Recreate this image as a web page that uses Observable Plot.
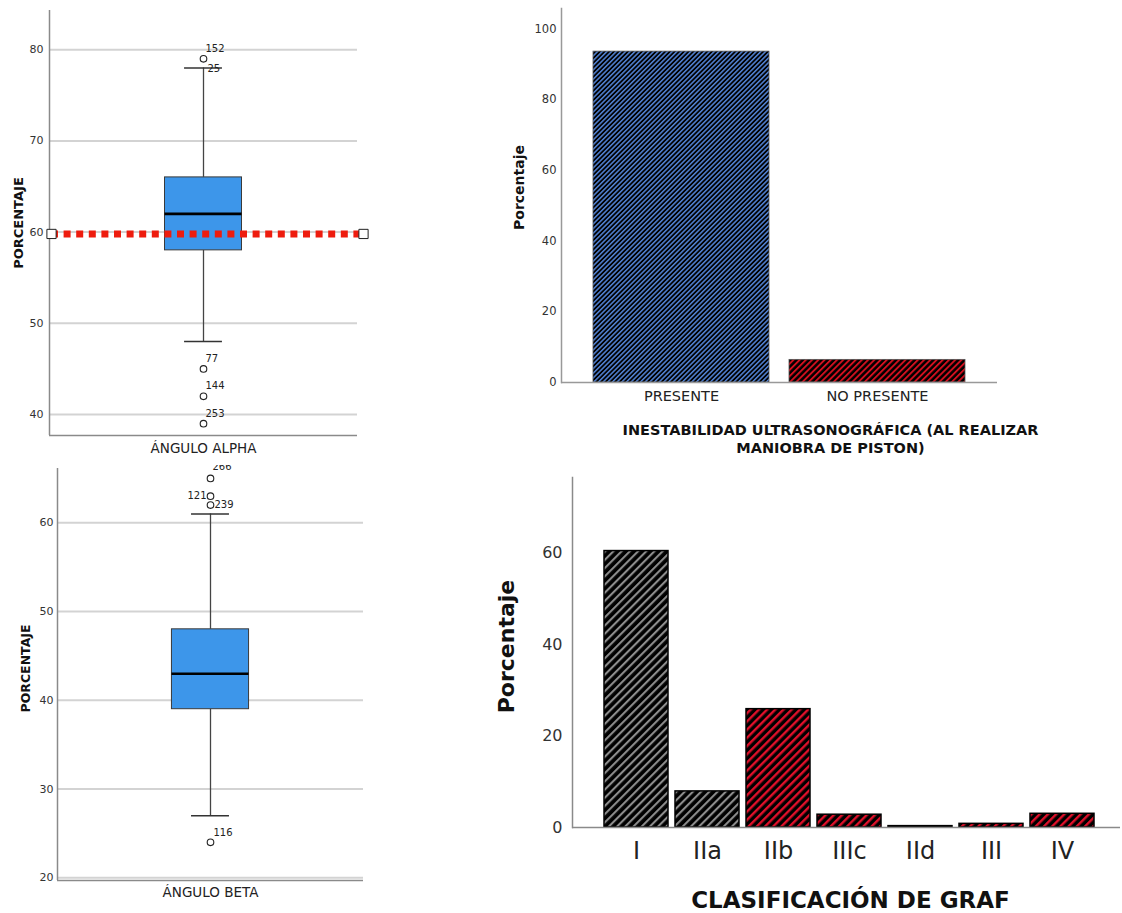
<!DOCTYPE html>
<html>
<head>
<meta charset="utf-8">
<script src="https://cdn.jsdelivr.net/npm/d3@7"></script>
<script src="https://cdn.jsdelivr.net/npm/@observablehq/plot@0.6"></script>
<style>
  body { margin: 0; background: #fff; }
  #wrap { position: relative; width: 1122px; height: 913px; overflow: hidden; background: #fff; font-family: "DejaVu Sans", sans-serif; }
  .panel { position: absolute; }
</style>
</head>
<body>
<div id="wrap">
  <div class="panel" id="p1" style="left:0;top:0"></div>
  <div class="panel" id="p2" style="left:480px;top:0"></div>
  <div class="panel" id="p3" style="left:0;top:465px"></div>
  <div class="panel" id="p4" style="left:480px;top:470px"></div>
</div>
<script>
// ---------------- DATA ----------------
// Panel 1: boxplot ángulo alpha
const alphaCategory = ["ÁNGULO ALPHA"];
const alphaTicks = [40, 50, 60, 70, 80];
const alphaYRange = [37.7, 84.3];
const alphaQuartiles = [58, 62, 66];          // Q1, mediana, Q3
const alphaWhiskers = [48, 78];               // bigote inferior, superior
const alphaOutlierValues = [79, 45, 42, 39];
const alphaOutlierIds = ["152", "77", "144", "253"];
const alphaCapValue = [78];
const alphaCapId = ["25"];
const alphaReference = [59.8];                // línea de referencia roja

// Panel 3: boxplot ángulo beta
const betaCategory = ["ÁNGULO BETA"];
const betaTicks = [20, 30, 40, 50, 60];
const betaYRange = [19.7, 66.12];
const betaQuartiles = [39, 43, 48];
const betaWhiskers = [27, 61];
const betaOutlierValues = [65, 63, 62, 24];
const betaOutlierIds = ["266", "121", "239", "116"];

// Panel 2: inestabilidad ultrasonográfica
const pistonCategories = ["PRESENTE", "NO PRESENTE"];
const pistonPercent = [93.6, 6.4];
const pistonTicks = [0, 20, 40, 60, 80, 100];
const pistonYMax = 105.8;

// Panel 4: clasificación de Graf
const grafCategories = ["I", "IIa", "IIb", "IIIc", "IId", "III", "IV"];
const grafPercent = [60.5, 7.9, 25.9, 2.8, 0.3, 0.8, 3.0];
const grafGroup = ["gris", "gris", "rojo", "rojo", "rojo", "rojo", "rojo"];
const grafTicks = [0, 20, 40, 60];
const grafYMax = 76.6;

// ---------------- HELPERS ----------------
function addPattern(svg, id, bg, fg, period, stripe) {
  const ns = "http://www.w3.org/2000/svg";
  let defs = svg.querySelector("defs");
  if (!defs) {
    defs = document.createElementNS(ns, "defs");
    svg.insertBefore(defs, svg.firstChild);
  }
  const p = document.createElementNS(ns, "pattern");
  p.setAttribute("id", id);
  p.setAttribute("patternUnits", "userSpaceOnUse");
  p.setAttribute("width", period);
  p.setAttribute("height", period);
  p.setAttribute("patternTransform", "rotate(45)");
  const r1 = document.createElementNS(ns, "rect");
  r1.setAttribute("width", period); r1.setAttribute("height", period); r1.setAttribute("fill", bg);
  const r2 = document.createElementNS(ns, "rect");
  r2.setAttribute("width", stripe); r2.setAttribute("height", period); r2.setAttribute("fill", fg);
  p.appendChild(r1); p.appendChild(r2);
  defs.appendChild(p);
}

const boxFill = "#3d96ea";
const boxStroke = "#3a3a3a";

// ---------------- PANEL 1 ----------------
{
  const box = [{q1: alphaQuartiles[0], med: alphaQuartiles[1], q3: alphaQuartiles[2], lo: alphaWhiskers[0], hi: alphaWhiskers[1]}];
  const outliers = alphaOutlierValues.map((v, i) => ({y: v, id: alphaOutlierIds[i]}));
  const capLab = alphaCapValue.map((v, i) => ({y: v, id: alphaCapId[i]}));
  const svg = Plot.plot({
    width: 380, height: 460,
    marginTop: 10, marginBottom: 25, marginLeft: 49, marginRight: 23,
    style: {fontFamily: "DejaVu Sans", background: "white"},
    x: {domain: [-1, 1]},
    y: {domain: alphaYRange},
    marks: [
      Plot.gridY(alphaTicks, {stroke: "#d3d3d3", strokeOpacity: 1, strokeWidth: 2}),
      Plot.axisY(alphaTicks, {tickSize: 0, tickPadding: 6, fontSize: 11, color: "#333", label: null}),
      Plot.axisX([0], {tickSize: 0, tickPadding: 8, fontSize: 13.5, color: "#222", label: null, tickFormat: () => alphaCategory[0]}),
      Plot.ruleX([-1], {stroke: "#8a8a8a", strokeWidth: 1.5}),
      Plot.ruleY([alphaYRange[0]], {stroke: "#8a8a8a", strokeWidth: 1.5}),
      Plot.text(["PORCENTAJE"], {frameAnchor: "left", textAnchor: "middle", lineAnchor: "middle", rotate: -90, dx: -30.5, fontWeight: "bold", fontSize: 13, fill: "#111"}),
      // whiskers
      Plot.ruleX(box, {x: 0, y1: "q3", y2: "hi", stroke: "#444", strokeWidth: 1.3}),
      Plot.ruleX(box, {x: 0, y1: "lo", y2: "q1", stroke: "#444", strokeWidth: 1.3}),
      Plot.ruleY(box, {y: "hi", x1: -0.123, x2: 0.123, stroke: "#333", strokeWidth: 1.6}),
      Plot.ruleY(box, {y: "lo", x1: -0.123, x2: 0.123, stroke: "#333", strokeWidth: 1.6}),
      // box
      Plot.rect(box, {x1: -0.25, x2: 0.25, y1: "q1", y2: "q3", fill: boxFill, stroke: boxStroke, strokeWidth: 1}),
      Plot.ruleY(box, {y: "med", x1: -0.25, x2: 0.25, stroke: "#000", strokeWidth: 2.6}),
      // reference line
      Plot.ruleY(alphaReference, {x1: -0.987, x2: 1.039, stroke: "#ee1c0e", strokeWidth: 7, strokeDasharray: "7,5.6"}),
      Plot.dot([{x: -0.987, y: alphaReference[0]}, {x: 1.039, y: alphaReference[0]}], {x: "x", y: "y", symbol: "square", r: 5.2, fill: "white", stroke: "#222", strokeWidth: 1}),
      // outliers
      Plot.dot(outliers, {x: 0, y: "y", r: 3.3, fill: "white", stroke: "#222", strokeWidth: 1.1}),
      Plot.text(outliers, {x: 0, y: "y", text: "id", textAnchor: "start", dx: 2, dy: -10, fontSize: 10, fill: "#222"}),
      Plot.text(capLab, {x: 0, y: "y", text: "id", textAnchor: "start", dx: 4, dy: 1, fontSize: 10, fill: "#222"})
    ]
  });
  document.getElementById("p1").appendChild(svg);
}

// ---------------- PANEL 3 ----------------
{
  const box = [{q1: betaQuartiles[0], med: betaQuartiles[1], q3: betaQuartiles[2], lo: betaWhiskers[0], hi: betaWhiskers[1]}];
  const outliers = betaOutlierValues.map((v, i) => ({y: v, id: betaOutlierIds[i]}));
  const svg = Plot.plot({
    width: 380, height: 448,
    marginTop: 3, marginBottom: 33, marginLeft: 57, marginRight: 17,
    style: {fontFamily: "DejaVu Sans", background: "white"},
    x: {domain: [-1, 1]},
    y: {domain: betaYRange},
    marks: [
      Plot.gridY(betaTicks, {stroke: "#d3d3d3", strokeOpacity: 1, strokeWidth: 2}),
      Plot.axisY(betaTicks, {tickSize: 0, tickPadding: 4, fontSize: 11, color: "#333", label: null}),
      Plot.axisX([0], {tickSize: 0, tickPadding: 7, fontSize: 13.5, color: "#222", label: null, tickFormat: () => betaCategory[0]}),
      Plot.ruleX([-1], {stroke: "#8a8a8a", strokeWidth: 1.5}),
      Plot.ruleY([betaYRange[0]], {stroke: "#8a8a8a", strokeWidth: 1.5}),
      Plot.text(["PORCENTAJE"], {frameAnchor: "left", textAnchor: "middle", lineAnchor: "middle", rotate: -90, dx: -32, dy: -6, fontWeight: "bold", fontSize: 12.5, fill: "#111"}),
      Plot.ruleX(box, {x: 0, y1: "q3", y2: "hi", stroke: "#444", strokeWidth: 1.3}),
      Plot.ruleX(box, {x: 0, y1: "lo", y2: "q1", stroke: "#444", strokeWidth: 1.3}),
      Plot.ruleY(box, {y: "hi", x1: -0.124, x2: 0.124, stroke: "#333", strokeWidth: 1.6}),
      Plot.ruleY(box, {y: "lo", x1: -0.124, x2: 0.124, stroke: "#333", strokeWidth: 1.6}),
      Plot.rect(box, {x1: -0.252, x2: 0.252, y1: "q1", y2: "q3", fill: boxFill, stroke: boxStroke, strokeWidth: 1}),
      Plot.ruleY(box, {y: "med", x1: -0.252, x2: 0.252, stroke: "#000", strokeWidth: 2.6}),
      Plot.dot(outliers, {x: 0, y: "y", r: 3.3, fill: "white", stroke: "#222", strokeWidth: 1.1}),
      Plot.text(outliers.filter(d => d.id === "266"), {x: 0, y: "y", text: "id", textAnchor: "start", dx: 2, dy: -12, fontSize: 10, fill: "#222"}),
      Plot.text(outliers.filter(d => d.id === "121"), {x: 0, y: "y", text: "id", textAnchor: "end", dx: -4, dy: 0, fontSize: 10, fill: "#222"}),
      Plot.text(outliers.filter(d => d.id === "239"), {x: 0, y: "y", text: "id", textAnchor: "start", dx: 4, dy: 0, fontSize: 10, fill: "#222"}),
      Plot.text(outliers.filter(d => d.id === "116"), {x: 0, y: "y", text: "id", textAnchor: "start", dx: 3, dy: -10, fontSize: 10, fill: "#222"})
    ]
  });
  document.getElementById("p3").appendChild(svg);
}

// ---------------- PANEL 2 ----------------
{
  const rows = pistonCategories.map((c, i) => ({cat: c, pct: pistonPercent[i]}));
  const svg = Plot.plot({
    width: 642, height: 465,
    marginTop: 8, marginBottom: 83, marginLeft: 81, marginRight: 125,
    style: {fontFamily: "DejaVu Sans", background: "white"},
    x: {domain: pistonCategories, paddingInner: 0.1, paddingOuter: 0.16},
    y: {domain: [0, pistonYMax]},
    color: {domain: pistonCategories, range: ["url(#hatch-blue)", "url(#hatch-red1)"]},
    marks: [
      Plot.barY(rows, {x: "cat", y: "pct", fill: "cat", stroke: "#555", strokeWidth: 0.8}),
      Plot.axisY(pistonTicks, {tickSize: 0, tickPadding: 5, fontSize: 11.5, color: "#333", label: null, fontStretch: "condensed"}),
      Plot.axisX({tickSize: 0, tickPadding: 8, fontSize: 14.5, color: "#222", label: null, fontStretch: "condensed"}),
      Plot.frame({anchor: "left", stroke: "#999", strokeWidth: 1.5}),
      Plot.ruleY([0], {stroke: "#999", strokeWidth: 1.5}),
      Plot.text(["Porcentaje"], {frameAnchor: "left", textAnchor: "middle", lineAnchor: "middle", rotate: -90, dx: -42, dy: -8, fontWeight: "bold", fontSize: 14, fill: "#111"}),
      Plot.text(["INESTABILIDAD ULTRASONOGRÁFICA (AL REALIZAR\nMANIOBRA DE PISTON)"], {frameAnchor: "bottom", textAnchor: "middle", lineAnchor: "middle", dx: 51, dy: 56, lineHeight: 1.24, fontWeight: "bold", fontSize: 14.5, fill: "#111"})
    ]
  });
  addPattern(svg, "hatch-blue", "#000", "#5283d6", 3.3, 1.5);
  addPattern(svg, "hatch-red1", "#000", "#d3101f", 4.4, 1.9);
  document.getElementById("p2").appendChild(svg);
}

// ---------------- PANEL 4 ----------------
{
  const rows = grafCategories.map((c, i) => ({cat: c, pct: grafPercent[i], grp: grafGroup[i]}));
  const svg = Plot.plot({
    width: 642, height: 443,
    marginTop: 7, marginBottom: 86, marginLeft: 92, marginRight: 2,
    style: {fontFamily: "DejaVu Sans", background: "white"},
    x: {domain: grafCategories, paddingInner: 0.1, paddingOuter: 0, insetLeft: 29.5, insetRight: 23},
    y: {domain: [0, grafYMax]},
    color: {domain: ["gris", "rojo"], range: ["url(#hatch-gray)", "url(#hatch-red2)"]},
    marks: [
      Plot.barY(rows, {x: "cat", y: "pct", fill: "grp", stroke: "#000", strokeWidth: 1.5}),
      Plot.axisY(grafTicks, {tickSize: 0, tickPadding: 10, fontSize: 16, color: "#333", label: null}),
      Plot.axisX({tickSize: 0, tickPadding: 14, fontSize: 24, color: "#222", label: null}),
      Plot.frame({anchor: "left", stroke: "#8a8a8a", strokeWidth: 1.5}),
      Plot.ruleY([0], {stroke: "#8a8a8a", strokeWidth: 1.5}),
      Plot.text(["Porcentaje"], {frameAnchor: "left", textAnchor: "middle", lineAnchor: "middle", rotate: -90, dx: -66, dy: -6, fontWeight: "bold", fontSize: 22, fill: "#111"}),
      Plot.text(["CLASIFICACIÓN DE GRAF"], {frameAnchor: "bottom", textAnchor: "middle", lineAnchor: "middle", dx: 4, dy: 73, fontWeight: "bold", fontSize: 23, fill: "#111"})
    ]
  });
  addPattern(svg, "hatch-gray", "#000", "#8c8c8c", 5.8, 2.1);
  addPattern(svg, "hatch-red2", "#000", "#e0102a", 5.8, 2.4);
  document.getElementById("p4").appendChild(svg);
}
</script>
</body>
</html>
